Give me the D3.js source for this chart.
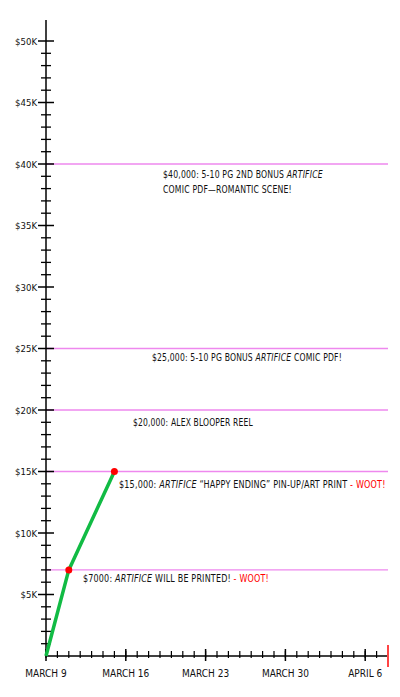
<!DOCTYPE html>
<html>
<head>
<meta charset="utf-8">
<script src="https://cdn.jsdelivr.net/npm/d3@7"></script>
<style>
  body { margin: 0; background: #fff; }
  text { font-family: "Liberation Sans Narrow", "DejaVu Sans Condensed", sans-serif; fill: #111; }
</style>
</head>
<body>
<div id="chart"></div>
<script>
// funding progress
const progressDates = ['2013-03-09', '2013-03-11', '2013-03-15'];
const progressValues = [0, 7000, 15000];

// stretch goals
const goalValues = [7000, 15000, 20000, 25000, 40000];
const goalLabels = [
  [[['$7000: '], ['ARTIFICE', 'i'], [' WILL BE PRINTED! '], ['- WOOT!', 'r']]],
  [[['$15,000: '], ['ARTIFICE', 'i'], [' \u201cHAPPY ENDING\u201d PIN-UP/ART PRINT '], ['- WOOT!', 'r']]],
  [[['$20,000: ALEX BLOOPER REEL']]],
  [[['$25,000: 5-10 PG BONUS '], ['ARTIFICE', 'i'], [' COMIC PDF!']]],
  [[['$40,000: 5-10 PG 2ND BONUS '], ['ARTIFICE', 'i']], [['COMIC PDF\u2014ROMANTIC SCENE!']]]
];

const yTickValues = [5000, 10000, 15000, 20000, 25000, 30000, 35000, 40000, 45000, 50000];
const yTickLabels = ['$5K', '$10K', '$15K', '$20K', '$25K', '$30K', '$35K', '$40K', '$45K', '$50K'];
const xTickDates = ['2013-03-09', '2013-03-16', '2013-03-23', '2013-03-30', '2013-04-06'];
const xTickLabels = ['MARCH 9', 'MARCH 16', 'MARCH 23', 'MARCH 30', 'APRIL 6'];
const endDate = '2013-04-08';

const width = 400, height = 697;
const parse = d3.utcParse('%Y-%m-%d');

const x = d3.scaleUtc()
    .domain([parse(xTickDates[0]), parse(endDate)])
    .range([46, 388]);
const y = d3.scaleLinear()
    .domain([0, 50000])
    .range([656, 41]);

// label layout: left x, y offset below line, width of each line in px
const labelPos = [
  {x: 83, dy: 12, w: [186]},
  {x: 119, dy: 16, w: [267]},
  {x: 133, dy: 16, w: [120]},
  {x: 152, dy: 12, w: [190]},
  {x: 163, dy: 14, w: [160, 129]}
];

const svg = d3.select('#chart').append('svg')
    .attr('width', width)
    .attr('height', height);

// goal lines
svg.append('g').selectAll('line')
    .data(goalValues)
    .enter().append('line')
    .attr('x1', x.range()[0]).attr('x2', x.range()[1])
    .attr('y1', d => y(d)).attr('y2', d => y(d))
    .attr('stroke', '#ee88ee')
    .attr('stroke-width', 1.3);

// goal labels
goalLabels.forEach(function(lines, i) {
  var pos = labelPos[i];
  lines.forEach(function(parts, j) {
    var t = svg.append('text')
        .attr('x', 0)
        .attr('y', 0)
        .attr('font-size', 10)
        .attr('letter-spacing', 0.2);
    parts.forEach(function(p) {
      var ts = t.append('tspan').text(p[0]);
      if (p[1] == 'i') ts.attr('font-style', 'italic');
      if (p[1] == 'r') ts.style('fill', '#ff0000');
    });
    var len = t.node().getComputedTextLength();
    var sx = pos.w[j] / len;
    t.attr('transform', 'translate(' + pos.x + ',' + (y(goalValues[i]) + pos.dy + j * 15) + ') scale(' + sx + ',1)');
  });
});

// y axis
svg.append('line')
    .attr('x1', 46).attr('x2', 46).attr('y1', 20).attr('y2', y(0))
    .attr('stroke', '#000').attr('stroke-width', 1.5);
svg.append('g').selectAll('line')
    .data(d3.range(1000, 50001, 1000).filter(v => v % 5000 != 0))
    .enter().append('line')
    .attr('x1', 41).attr('x2', 51)
    .attr('y1', d => y(d)).attr('y2', d => y(d))
    .attr('stroke', '#000').attr('stroke-width', 1.3);
svg.append('g').selectAll('line')
    .data(yTickValues)
    .enter().append('line')
    .attr('x1', 38).attr('x2', 54)
    .attr('y1', d => y(d)).attr('y2', d => y(d))
    .attr('stroke', '#000').attr('stroke-width', 1.5);
svg.append('g').selectAll('text')
    .data(yTickValues)
    .enter().append('text')
    .attr('x', 37)
    .attr('y', d => y(d) + 3.5)
    .attr('text-anchor', 'end')
    .attr('font-size', 9.5)
    .text((d, i) => yTickLabels[i]);

// x axis
svg.append('line')
    .attr('x1', x.range()[0]).attr('x2', x.range()[1])
    .attr('y1', y(0)).attr('y2', y(0))
    .attr('stroke', '#000').attr('stroke-width', 1.5);
var days = d3.utcDay.range(parse(xTickDates[0]), parse(endDate));
svg.append('g').selectAll('line')
    .data(days)
    .enter().append('line')
    .attr('x1', d => x(d)).attr('x2', d => x(d))
    .attr('y1', y(0) - 5).attr('y2', y(0) + 2)
    .attr('stroke', '#000').attr('stroke-width', 1.2);
svg.append('g').selectAll('line')
    .data(xTickDates.map(parse))
    .enter().append('line')
    .attr('x1', d => x(d)).attr('x2', d => x(d))
    .attr('y1', y(0) - 7).attr('y2', y(0) + 5)
    .attr('stroke', '#000').attr('stroke-width', 1.5);
svg.append('line')
    .attr('x1', x(parse(endDate))).attr('x2', x(parse(endDate)))
    .attr('y1', y(0) - 11).attr('y2', y(0) + 11)
    .attr('stroke', '#ff4444').attr('stroke-width', 2);
svg.append('g').selectAll('text')
    .data(xTickDates)
    .enter().append('text')
    .attr('x', d => x(parse(d)))
    .attr('y', 677)
    .attr('text-anchor', 'middle')
    .attr('font-size', 10)
    .text((d, i) => xTickLabels[i]);

// progress line
var pts = progressDates.map((d, i) => [x(parse(d)), y(progressValues[i])]);
svg.append('path')
    .attr('d', d3.line()(pts))
    .attr('fill', 'none')
    .attr('stroke', '#11bb44')
    .attr('stroke-width', 3.5)
    .attr('stroke-linejoin', 'round');
svg.append('g').selectAll('circle')
    .data(pts.slice(1))
    .enter().append('circle')
    .attr('cx', d => d[0]).attr('cy', d => d[1])
    .attr('r', 3.5)
    .attr('fill', '#ff0000');
</script>
</body>
</html>
